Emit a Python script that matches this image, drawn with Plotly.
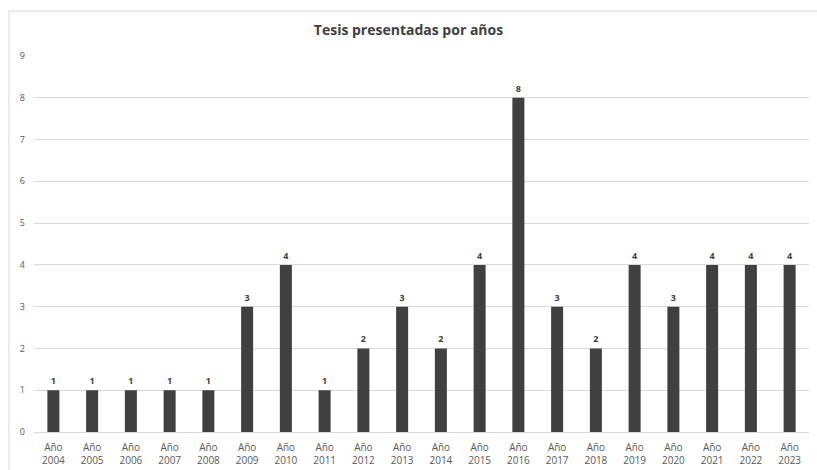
import plotly.graph_objects as go

years = [str(y) for y in range(2004, 2024)]
categories = ["Año<br>" + y for y in years]
values = [1, 1, 1, 1, 1, 3, 4, 1, 2, 3, 2, 4, 8, 3, 2, 4, 3, 4, 4, 4]
title = "Tesis presentadas por años"

W, H = 817, 470
ml, mr, mt, mb = 34, 8, 56, 38
pw = W - ml - mr
ph = H - mt - mb

fig = go.Figure(go.Bar(
    x=categories, y=values,
    marker=dict(color="#404040", line=dict(width=0)),
    width=0.31,
    text=["<b>%d</b>" % v for v in values], textposition="outside", cliponaxis=False,
    textfont=dict(size=9, color="#404040", family="Open Sans"),
))

fig.update_layout(
    width=W, height=H,
    margin=dict(l=ml, r=mr, t=mt, b=mb, autoexpand=False),
    paper_bgcolor="white", plot_bgcolor="white",
    font=dict(family="Open Sans", color="#595959", size=10),
    title=dict(text="<b>" + title + "</b>", x=0.5, xanchor="center",
               y=1 - 30 / H, yanchor="middle",
               font=dict(size=14, color="#404040", family="Open Sans")),
    showlegend=False,
    xaxis=dict(showgrid=False, showline=True, linecolor="#d9d9d9", linewidth=1,
               tickfont=dict(size=10, color="#595959"), ticks="", automargin=False,
               ticklabelstandoff=6),
    yaxis=dict(range=[0, 9], dtick=1, showgrid=True, gridcolor="#d9d9d9",
               zeroline=False, showline=False, ticks="", automargin=False,
               ticklabelstandoff=8,
               tickfont=dict(size=9, color="#595959")),
    shapes=[dict(type="rect", xref="paper", yref="paper",
                 x0=(9 - ml) / pw, x1=(W + 20 - ml) / pw,
                 y0=-(H + 20 - mt - ph) / ph, y1=(mt - 11) / ph + 1,
                 line=dict(color="#d9d9d9", width=1), layer="below")],
)

fig.write_html("out.html", config={"displayModeBar": False})
with open("out.html", encoding="utf-8") as f:
    html = f.read()
html = html.replace("<head>", "<head><style>html,body{margin:0;padding:0;overflow:hidden}</style>", 1)
with open("out.html", "w", encoding="utf-8") as f:
    f.write(html)
